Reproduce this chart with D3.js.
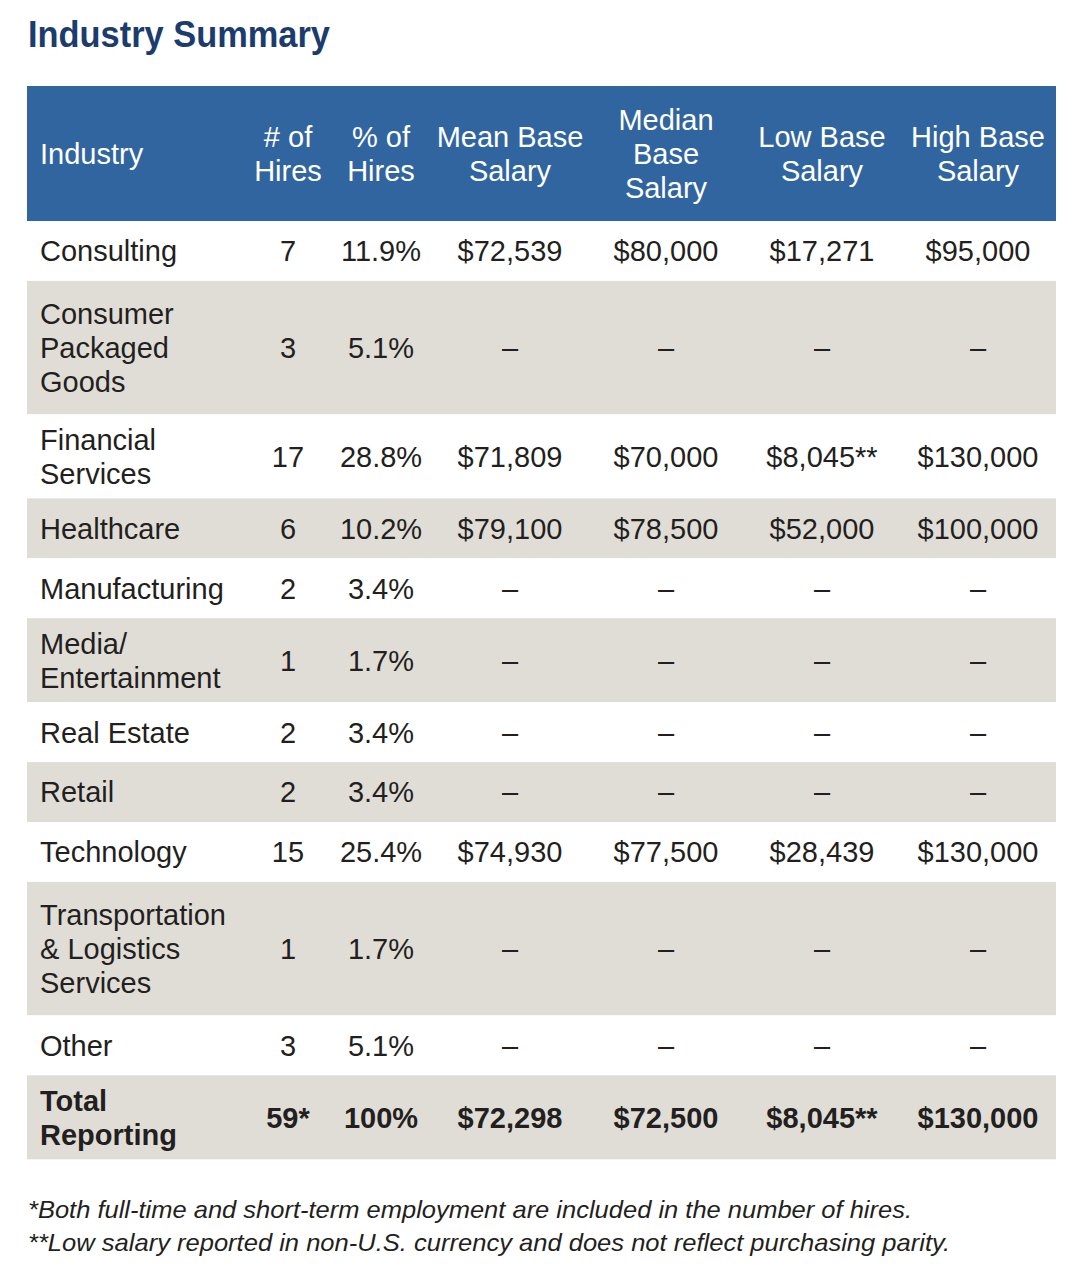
<!DOCTYPE html>
<html>
<head>
<meta charset="utf-8">
<script src="https://cdn.jsdelivr.net/npm/d3@7"></script>
<style>
  html, body { margin: 0; padding: 0; background: #ffffff; }
  svg { display: block; }
</style>
</head>
<body>
<svg id="chart" width="1080" height="1273"></svg>
<script>
// ---------- DATA ----------
const title = "Industry Summary";
const headerLabels = [
  ["Industry"],
  ["# of", "Hires"],
  ["% of", "Hires"],
  ["Mean Base", "Salary"],
  ["Median", "Base", "Salary"],
  ["Low Base", "Salary"],
  ["High Base", "Salary"]
];
const industryLabels = [
  ["Consulting"],
  ["Consumer", "Packaged", "Goods"],
  ["Financial", "Services"],
  ["Healthcare"],
  ["Manufacturing"],
  ["Media/", "Entertainment"],
  ["Real Estate"],
  ["Retail"],
  ["Technology"],
  ["Transportation", "& Logistics", "Services"],
  ["Other"]
];
const hires        = [7, 3, 17, 6, 2, 1, 2, 2, 15, 1, 3];
const pctHires     = [11.9, 5.1, 28.8, 10.2, 3.4, 1.7, 3.4, 3.4, 25.4, 1.7, 5.1];
const meanSalary   = [72539, null, 71809, 79100, null, null, null, null, 74930, null, null];
const medianSalary = [80000, null, 70000, 78500, null, null, null, null, 77500, null, null];
const lowSalary    = [17271, null, 8045, 52000, null, null, null, null, 28439, null, null];
const lowNotes     = ["", "", "**", "", "", "", "", "", "", "", ""];
const highSalary   = [95000, null, 130000, 100000, null, null, null, null, 130000, null, null];

const totalLabel   = ["Total", "Reporting"];
const totalHires   = 59;
const totalPct     = 100;
const totalMean    = 72298;
const totalMedian  = 72500;
const totalLow     = 8045;
const totalHigh    = 130000;
const footnotes = [
  "*Both full-time and short-term employment are included in the number of hires.",
  "**Low salary reported in non-U.S. currency and does not reflect purchasing parity."
];

// ---------- LAYOUT ----------
const svg = d3.select("#chart");
const FONT = "'Liberation Sans', Arial, Helvetica, sans-serif";
const fs = 29;          // body font size
const lineH = 34;       // line spacing
const tableLeft = 27, tableRight = 1056;
const headerTop = 86, headerH = 135;
const rowHeightByLines = {1: 59.9, 2: 84, 3: 133.5};
const blue = "#3165a0", gray = "#e0ddd7", textColor = "#231f20";

const cols = ["hires", "pct", "mean", "median", "low", "high"];
const colX = d3.scaleOrdinal().domain(cols).range([288, 381, 510, 666, 822, 978]);
const labelX = 40;

const fmtMoney = d3.format("$,");
const fmtPct = d3.format(".1f");
const dash = "\u2013";

// Build rows
const rows = industryLabels.map((lab, i) => ({
  label: lab,
  bold: false,
  values: {
    hires: String(hires[i]),
    pct: fmtPct(pctHires[i]) + "%",
    mean: meanSalary[i] == null ? dash : fmtMoney(meanSalary[i]),
    median: medianSalary[i] == null ? dash : fmtMoney(medianSalary[i]),
    low: lowSalary[i] == null ? dash : fmtMoney(lowSalary[i]) + lowNotes[i],
    high: highSalary[i] == null ? dash : fmtMoney(highSalary[i])
  }
}));
rows.push({
  label: totalLabel,
  bold: true,
  values: {
    hires: totalHires + "*",
    pct: totalPct + "%",
    mean: fmtMoney(totalMean),
    median: fmtMoney(totalMedian),
    low: fmtMoney(totalLow) + "**",
    high: fmtMoney(totalHigh)
  }
});

const heights = rows.map(r => rowHeightByLines[r.label.length]);
const tops = [headerTop + headerH, ...Array.from(d3.cumsum(heights)).map(c => headerTop + headerH + c)];
rows.forEach((r, i) => { r.y0 = tops[i]; r.h = heights[i]; r.shade = i % 2 === 1; });

// ---------- TITLE ----------
svg.append("text")
  .attr("x", 28).attr("y", 47)
  .attr("font-family", FONT).attr("font-weight", "bold")
  .attr("font-size", 36)
  .attr("fill", "#1b3c6d")
  .attr("textLength", 302).attr("lengthAdjust", "spacingAndGlyphs")
  .text(title);

// ---------- HEADER ----------
svg.append("rect")
  .attr("x", tableLeft).attr("y", headerTop)
  .attr("width", tableRight - tableLeft).attr("height", headerH)
  .attr("fill", blue);

function multiline(g, lines, x, cy, anchor, opts) {
  const n = lines.length;
  const t = g.append("text")
    .attr("font-family", FONT)
    .attr("font-size", fs)
    .attr("font-weight", opts.bold ? "bold" : "normal")
    .attr("fill", opts.fill)
    .attr("text-anchor", anchor);
  lines.forEach((ln, k) => {
    const base = cy + (k - (n - 1) / 2) * lineH + fs * 0.36;
    t.append("tspan").attr("x", x).attr("y", base).text(ln);
  });
  return t;
}

const headerCy = headerTop + headerH / 2;
const hg = svg.append("g").attr("class", "header");
multiline(hg, headerLabels[0], labelX, headerCy, "start", {fill: "#ffffff"});
cols.forEach((c, k) => {
  multiline(hg, headerLabels[k + 1], colX(c), headerCy, "middle", {fill: "#ffffff"});
});

// ---------- BODY ----------
const body = svg.append("g").attr("class", "body");
const rowG = body.selectAll("g.row").data(rows).join("g").attr("class", "row");

rowG.append("rect")
  .attr("x", tableLeft).attr("y", d => d.y0)
  .attr("width", tableRight - tableLeft).attr("height", d => d.h)
  .attr("fill", d => d.shade ? gray : "#ffffff");

rowG.each(function(d) {
  const g = d3.select(this);
  const cy = d.y0 + d.h / 2;
  multiline(g, d.label, labelX, cy, "start", {fill: textColor, bold: d.bold});
  cols.forEach(c => {
    multiline(g, [d.values[c]], colX(c), cy, "middle", {fill: textColor, bold: d.bold});
  });
});

// ---------- FOOTNOTES ----------
const footLens = [884, 922];
footnotes.forEach((f, i) => {
  svg.append("text")
    .attr("x", 28).attr("y", 1218 + i * 33)
    .attr("font-family", FONT).attr("font-style", "italic")
    .attr("font-size", 24)
    .attr("fill", textColor)
    .attr("textLength", footLens[i]).attr("lengthAdjust", "spacingAndGlyphs")
    .text(f);
});
</script>
</body>
</html>
